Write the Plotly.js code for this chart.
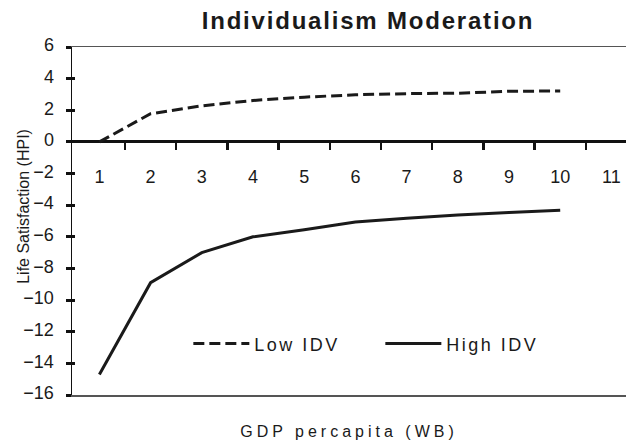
<!DOCTYPE html>
<html>
<head>
<meta charset="utf-8">
<script src="https://cdn.plot.ly/plotly-3.0.1.min.js"></script>
<style>
html, body { margin: 0; padding: 0; background: #fff; overflow: hidden; }
.gtitle { letter-spacing: 1.8px; }
.x3title { letter-spacing: 4px; }
.legendtext { letter-spacing: 2.5px; }
</style>
</head>
<body>
<div id="chart" style="width:626px;height:447px;"></div>
<script>
// ---- data ----
const gdpCategories = [1, 2, 3, 4, 5, 6, 7, 8, 9, 10];
const lowIDV  = [0, 1.78, 2.28, 2.62, 2.83, 2.98, 3.05, 3.08, 3.2, 3.22];
const highIDV = [-14.7, -8.9, -7.0, -6.0, -5.55, -5.06, -4.83, -4.62, -4.46, -4.32];
const xTickVals = [1, 2, 3, 4, 5, 6, 7, 8, 9, 10, 11];
const xTickText = ['1', '2', '3', '4', '5', '6', '7', '8', '9', '10', '11'];
const xDividers = [1.5, 2.5, 3.5, 4.5, 5.5, 6.5, 7.5, 8.5, 9.5, 10.5];
const yTickVals = [-16, -14, -12, -10, -8, -6, -4, -2, 0, 2, 4, 6];
const seriesNames = ['Low IDV', 'High IDV'];

const FONT = '"Liberation Sans", Arial, sans-serif';
const xRange = [0.465, 11.285];
const yRange = [-16, 6];
const zeroPos = (0 - yRange[0]) / (yRange[1] - yRange[0]);

const traces = [
  { x: gdpCategories, y: lowIDV, name: seriesNames[0], type: 'scatter', mode: 'lines',
    line: { color: '#1a1a1a', width: 3, dash: '11px,5px' } },
  { x: gdpCategories, y: highIDV, name: seriesNames[1], type: 'scatter', mode: 'lines',
    line: { color: '#1a1a1a', width: 3 } },
  { x: [], y: [], xaxis: 'x2', yaxis: 'y', showlegend: false, hoverinfo: 'skip' },
  { x: [], y: [], xaxis: 'x3', yaxis: 'y', showlegend: false, hoverinfo: 'skip' },
  { x: [], y: [], xaxis: 'x', yaxis: 'y2', showlegend: false, hoverinfo: 'skip' }
];

const layout = {
  width: 626, height: 447,
  margin: { l: 72, r: 0, t: 47, b: 52 },
  paper_bgcolor: '#fff', plot_bgcolor: '#fff',
  hovermode: false,
  title: {
    text: 'Individualism Moderation',
    font: { family: FONT, size: 24, weight: 'bold', color: '#1a1a1a' },
    xref: 'container', x: 368 / 626, xanchor: 'center',
    yref: 'container', y: 1 - 20.5 / 447, yanchor: 'middle'
  },
  xaxis: {
    range: xRange, anchor: 'free', position: zeroPos,
    tickmode: 'array', tickvals: xTickVals, ticktext: xTickText,
    ticks: '', showline: false, showgrid: false, zeroline: false,
    tickfont: { family: FONT, size: 18, color: '#1a1a1a' },
    ticklabelstandoff: 22
  },
  xaxis2: {
    range: xRange, overlaying: 'x', anchor: 'free', position: zeroPos,
    tickmode: 'array', tickvals: xDividers,
    ticks: 'outside', ticklen: 7, tickwidth: 2.5, tickcolor: '#111',
    showticklabels: false, showline: false, showgrid: false, zeroline: false
  },
  xaxis3: {
    range: xRange, overlaying: 'x', anchor: 'y', side: 'bottom',
    showline: true, mirror: true, linecolor: '#555', linewidth: 1.5,
    ticks: '', showticklabels: false, showgrid: false, zeroline: false,
    title: { text: 'GDP percapita (WB)', font: { family: FONT, size: 16, color: '#1a1a1a' }, standoff: 30 }
  },
  yaxis: {
    range: yRange, tickmode: 'array', tickvals: yTickVals,
    ticks: 'outside', ticklen: 5, tickwidth: 3, tickcolor: '#111',
    showline: true, linecolor: '#111', linewidth: 1.5,
    zeroline: true, zerolinecolor: '#111', zerolinewidth: 3,
    showgrid: false,
    tickfont: { family: FONT, size: 18, color: '#1a1a1a' },
    ticklabelstandoff: 8, ticklabelshift: -2
  },
  yaxis2: {
    range: yRange, overlaying: 'y', anchor: 'x', side: 'left',
    tickmode: 'array', tickvals: yTickVals,
    ticks: 'inside', ticklen: 3, tickwidth: 3, tickcolor: '#111',
    showticklabels: false, showline: false, showgrid: false, zeroline: false
  },
  annotations: [{
    text: 'Life Satisfaction (HPI)', textangle: -90, showarrow: false,
    xref: 'paper', x: (23.3 - 72) / 554, xanchor: 'center',
    yref: 'paper', y: (395 - 206.5) / 348, yanchor: 'middle',
    font: { family: FONT, size: 16, color: '#1a1a1a' }
  }],
  showlegend: true,
  legend: {
    orientation: 'h', x: 0.21, xanchor: 'left', y: 0.147, yanchor: 'middle',
    entrywidth: 121, entrywidthmode: 'pixels', itemwidth: 56,
    bgcolor: 'rgba(0,0,0,0)', traceorder: 'normal',
    font: { family: FONT, size: 18, color: '#1a1a1a' }
  }
};

Plotly.newPlot('chart', traces, layout, { displayModeBar: false, staticPlot: true });
</script>
</body>
</html>
